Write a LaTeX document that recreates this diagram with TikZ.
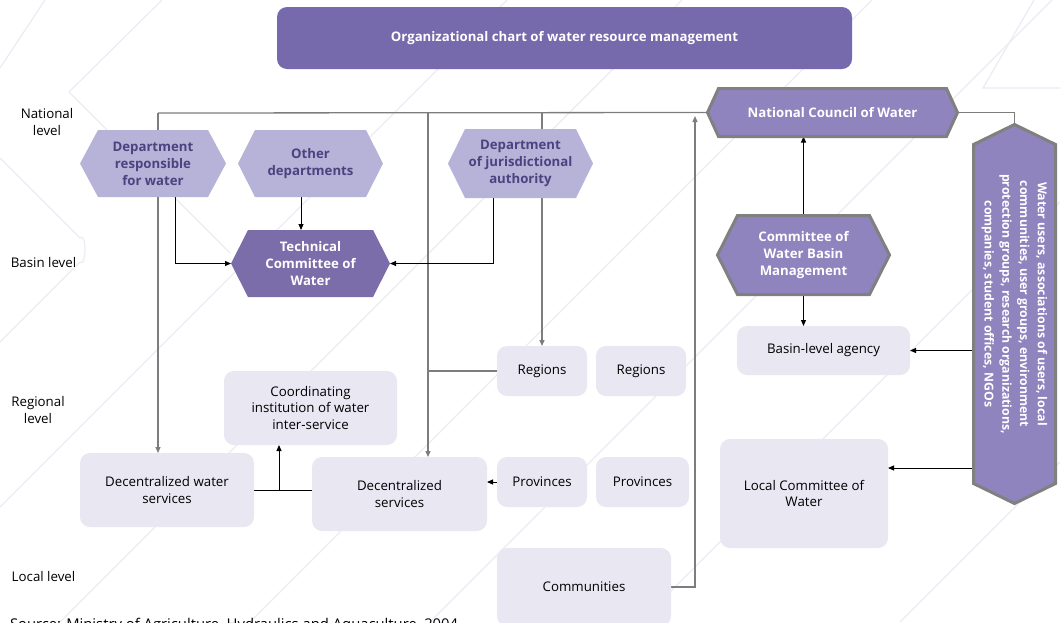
\documentclass[tikz,border=0pt]{standalone}
\usepackage{fontspec}
\setmainfont{Open Sans}
\usetikzlibrary{arrows.meta,calc}
\pgfdeclarelayer{deco}\pgfdeclarelayer{edges}\pgfdeclarelayer{shapes}
\pgfsetlayers{deco,edges,shapes,main}
\definecolor{titlec}{HTML}{7669AC}
\definecolor{lighthex}{HTML}{B6B2D8}
\definecolor{hextext}{HTML}{4A4380}
\definecolor{techc}{HTML}{7A6DAA}
\definecolor{midhex}{HTML}{8F84BE}
\definecolor{hexborder}{HTML}{808080}
\definecolor{boxc}{HTML}{E8E7F2}
\definecolor{decoc}{HTML}{ECEAF3}
\definecolor{glinec}{HTML}{7D7D7D}
\newcommand{\hexH}[3]{\path[#3] (#1.west) -- ([xshift=#2]#1.north west) -- ([xshift=-#2]#1.north east) -- (#1.east) -- ([xshift=-#2]#1.south east) -- ([xshift=#2]#1.south west) -- cycle;}
\newcommand{\hexV}[3]{\path[#3] (#1.north) -- ([yshift=-#2]#1.north east) -- ([yshift=#2]#1.south east) -- (#1.south) -- ([yshift=#2]#1.south west) -- ([yshift=-#2]#1.north west) -- cycle;}
\tikzset{
  every node/.style={inner sep=0pt, outer sep=0pt},
  txt/.style={font=\fontsize{13.3}{16.5}\selectfont, align=center},
  hxt/.style={font=\bfseries\fontsize{13.2}{17}\selectfont, align=center, text=hextext},
  hxw/.style={font=\bfseries\fontsize{13.2}{17}\selectfont, align=center, text=white},
  lbox/.style={fill=boxc, rounded corners=10pt, txt},
  gline/.style={draw=glinec, line width=1.3pt},
  bline/.style={draw=black, line width=0.9pt},
  tip/.style={-{Triangle[length=6pt,width=5pt]}},
  deco/.style={draw=decoc, line width=1.2pt},
  bhex/.style={fill=midhex, draw=hexborder, line width=3pt, line join=miter}
}
\begin{document}
\begin{tikzpicture}[x=1pt,y=-1pt]
\clip (0,0) rectangle (1060,622);
\useasboundingbox (0,0) rectangle (1060,622);
% decorative background
\begin{pgfonlayer}{deco}
\draw[deco] (0,68) -- (45,0);
\draw[deco] (162,0) -- (69,92) -- (230,253);
\draw[deco] (0,158) -- (80,238) to[out=45,in=-45] (80,262) -- (0,342);
\draw[deco] (0,507) -- (507,0);
\draw[deco] (60,622) -- (682,0);
\draw[deco] (250,622) -- (872,0);
\draw[deco] (430,622) -- (1060,-8);
\draw[deco] (640,622) -- (1060,202);
\draw[deco] (900,622) -- (1060,462);
\draw[deco] (1060,88) -- (983,88) -- (1034,0);
\end{pgfonlayer}
% title
\node[fill=titlec, rounded corners=10pt, minimum width=575pt, minimum height=62pt, text=white, font=\bfseries\fontsize{13.2}{16}\selectfont] (title) at (564.5,38) {Organizational chart of water resource management};
% level labels
\node[txt] (lnat) at (47,122) {National\\level};
\node[txt] (lbas) at (43.5,263) {Basin level};
\node[txt] (lreg) at (38,410) {Regional\\level};
\node[txt] (lloc) at (43.5,577) {Local level};
% hexagon nodes
\node[hxt, minimum width=146pt, minimum height=67pt] (dep1) at (153,163.5) {Department\\responsible\\for water};
\node[hxt, minimum width=145pt, minimum height=67pt] (other) at (310.5,163.5) {Other\\departments};
\node[hxt, minimum width=145pt, minimum height=69pt] (depj) at (520.5,163.5) {Department\\of jurisdictional\\authority};
\node[hxw, minimum width=159pt, minimum height=67pt] (tech) at (310.5,263.5) {Technical\\Committee of\\Water};
\node[hxw, minimum width=250pt, minimum height=48pt] (council) at (832.5,112.5) {National Council of Water};
\node[hxw, minimum width=172pt, minimum height=79pt] (cwbm) at (803.5,255) {Committee of\\Water Basin\\Management};
\node[minimum width=82pt, minimum height=379pt] (users) at (1014.5,314) {};
\node[hxw, rotate=-90, font=\bfseries\fontsize{12.3}{17.7}\selectfont] (userstxt) at ([yshift=10pt]users.center) {Water users, associations of users, local\\communities, user groups, environment\\protection groups, research organizations,\\companies, student offices, NGOs};
\begin{pgfonlayer}{shapes}
\hexH{dep1}{18pt}{fill=lighthex}
\hexH{other}{17pt}{fill=lighthex}
\hexH{depj}{17pt}{fill=lighthex}
\hexH{tech}{17pt}{fill=techc}
\hexH{council}{11pt}{bhex}
\hexH{cwbm}{20pt}{bhex}
\hexV{users}{20pt}{bhex}
\end{pgfonlayer}
% boxes
\node[lbox, minimum width=173pt, minimum height=74pt] (coord) at (310.5,408) {Coordinating\\institution of water\\inter-service};
\node[lbox, minimum width=174pt, minimum height=74pt] (dws) at (167,490) {Decentralized water\\services};
\node[lbox, minimum width=175pt, minimum height=74pt] (ds) at (399.5,494) {Decentralized\\services};
\node[lbox, minimum width=90pt, minimum height=50pt] (reg1) at (542,371) {Regions};
\node[lbox, minimum width=90pt, minimum height=50pt] (reg2) at (641,371) {Regions};
\node[lbox, minimum width=90pt, minimum height=50pt] (prov1) at (542,482) {Provinces};
\node[lbox, minimum width=93pt, minimum height=50pt] (prov2) at (642.5,482) {Provinces};
\node[lbox, minimum width=173pt, minimum height=49pt] (basin) at (823.5,350.5) {Basin-level agency};
\node[lbox, minimum width=168pt, minimum height=109pt] (local) at (804,493.5) {Local Committee of\\Water};
\node[lbox, minimum width=174pt, minimum height=78pt] (comm) at (584,587) {Communities};
\node[anchor=base west, font=\fontsize{14.8}{16}\selectfont] (src) at (10,629) {Source: Ministry of Agriculture, Hydraulics and Aquaculture, 2004};
% connectors
\coordinate (t1) at (158,113);
\coordinate (t2) at (428,113);
\coordinate (t3) at (542,113);
\coordinate (t4) at (695,116);
\coordinate (j1) at (279,490);
\coordinate (lc) at ([yshift=25.5pt]local.east);
\begin{pgfonlayer}{edges}
\draw[gline] (t1) -- (council.west);
\draw[gline, tip] (t1) -- (t1 |- dws.north);
\draw[gline, tip] (t2) -- (t2 |- ds.north);
\draw[gline, tip] (t3) -- (reg1.north);
\draw[gline, tip] (comm.east) -| (t4);
\draw[gline] (reg1.west) -- (reg1.west -| t2);
\draw[gline] (council.east) -| (users.north);
\draw[bline, tip] ([xshift=22pt]dep1.south) |- (tech.west);
\draw[bline, tip] ([xshift=-9.5pt]other.south) -- ([xshift=-9.5pt]tech.north);
\draw[bline, tip] ([xshift=-27.5pt]depj.south) |- (tech.east);
\draw[bline, tip] (cwbm.north) -- (cwbm.north |- council.south);
\draw[bline, tip] (cwbm.south) -- (cwbm.south |- basin.north);
\draw[bline, tip] (users.west |- basin.east) -- (basin.east);
\draw[bline, tip] (users.west |- lc) -- (lc);
\draw[bline, tip] (prov1.west) -- (ds.east |- prov1.west);
\draw[bline] (dws.east) -- (ds.west |- dws.east);
\draw[bline, tip] (j1) -- (j1 |- coord.south);
\end{pgfonlayer}
\end{tikzpicture}
\end{document}
